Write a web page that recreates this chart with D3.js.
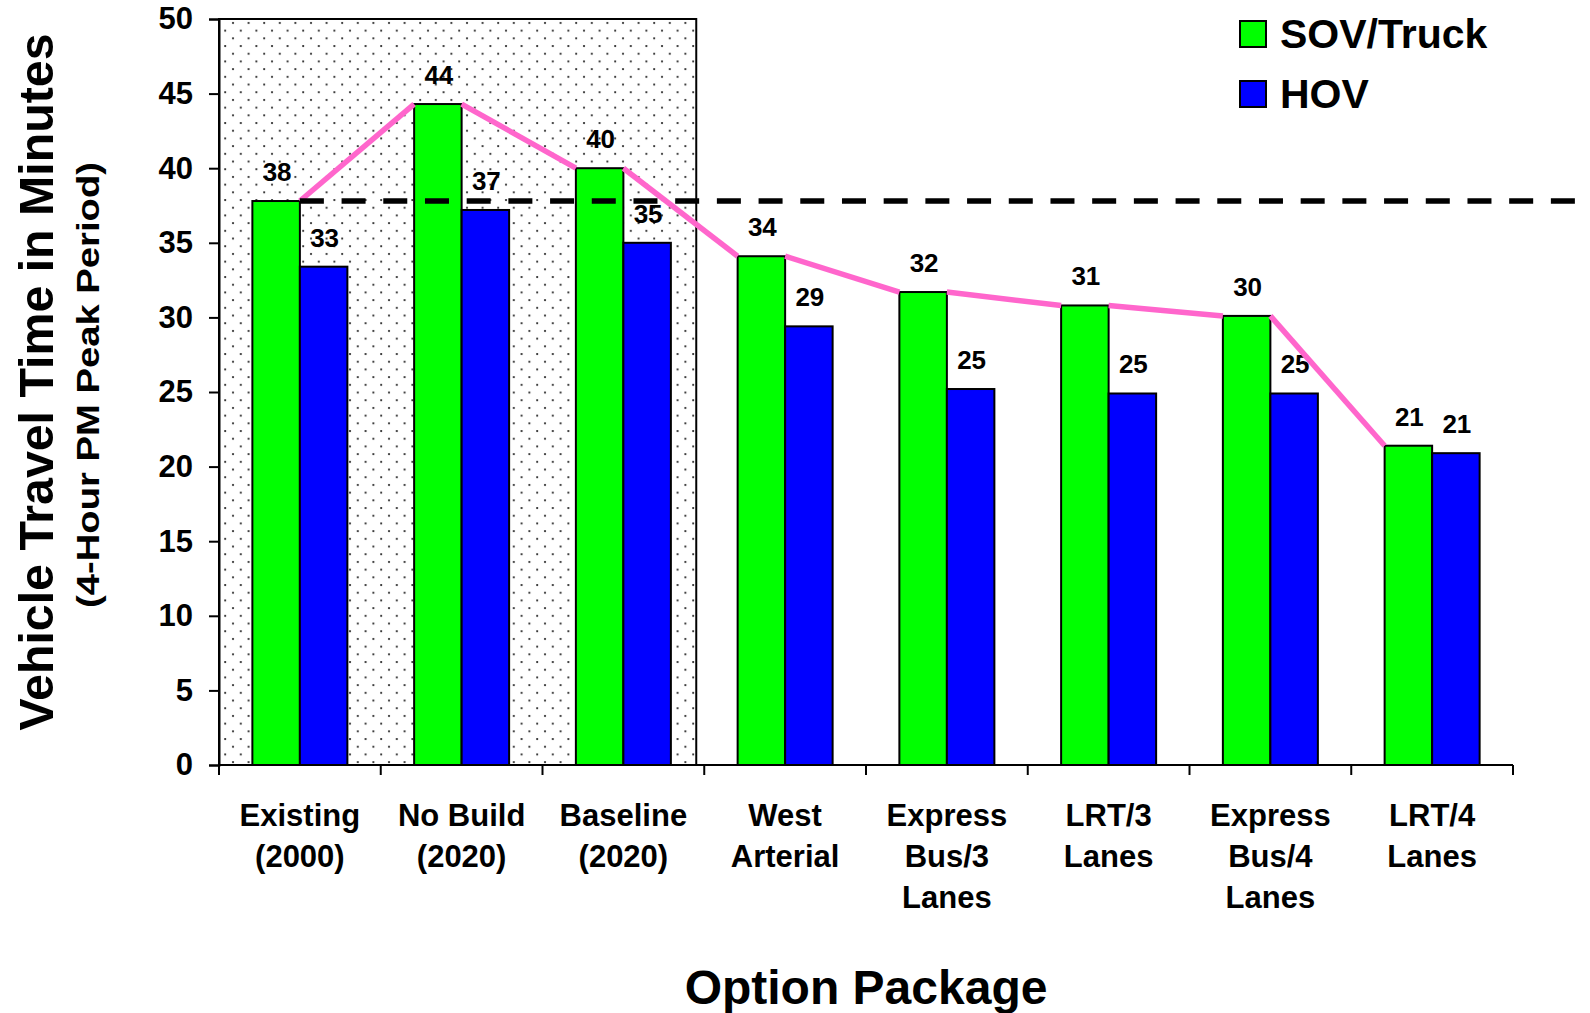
<!DOCTYPE html>
<html>
<head>
<meta charset="utf-8">
<script src="https://cdn.jsdelivr.net/npm/d3@7"></script>
<style>
  body { margin: 0; background: #fff; }
  svg text { font-family: "Liberation Sans", Arial, sans-serif; font-weight: bold; fill: #000; }
</style>
</head>
<body>
<div id="chart"></div>
<script>
// data
const categories = [
  ["Existing", "(2000)"],
  ["No Build", "(2020)"],
  ["Baseline", "(2020)"],
  ["West", "Arterial"],
  ["Express", "Bus/3", "Lanes"],
  ["LRT/3", "Lanes"],
  ["Express", "Bus/4", "Lanes"],
  ["LRT/4", "Lanes"]
];
const seriesNames = ["SOV/Truck", "HOV"];
const sovValues = [37.8, 44.3, 40.0, 34.1, 31.7, 30.8, 30.1, 21.4];
const hovValues = [33.4, 37.2, 35.0, 29.4, 25.2, 24.9, 24.9, 20.9];
const yTicks = [0, 5, 10, 15, 20, 25, 30, 35, 40, 45, 50];
const shadedCount = 3; // existing / no build / baseline
const seriesColors = ["#00ff00", "#0000ff"];

const width = 1590;
const height = 1013;
const margin = { left: 219, right: 77, top: 19, bottom: 248 };

const svg = d3.select("#chart")
  .append("svg")
  .attr("width", width)
  .attr("height", height);

const keys = categories.map((c, i) => i);

const x0 = d3.scaleBand()
  .domain(keys)
  .range([margin.left, width - margin.right])
  .padding(0);

const groupWidth = 95;
const x1 = d3.scaleBand()
  .domain(seriesNames)
  .range([0, groupWidth]);

const y = d3.scaleLinear()
  .domain([0, 50])
  .range([height - margin.bottom, margin.top]);

const step = x0.step();
const barX = (i, s) => x0(i) + (step - groupWidth) / 2 + x1(s);

// dotted background for the existing / 2020 packages
const defs = svg.append("defs");
const pat = defs.append("pattern")
  .attr("id", "dots")
  .attr("patternUnits", "userSpaceOnUse")
  .attr("x", 230)
  .attr("y", 20)
  .attr("width", 15.6)
  .attr("height", 15.4);
pat.append("rect").attr("width", 15.6).attr("height", 15.4).attr("fill", "#fff");
pat.append("circle").attr("cx", 3).attr("cy", 3).attr("r", 1.1).attr("fill", "#222");
pat.append("circle").attr("cx", 10.8).attr("cy", 10.7).attr("r", 1.1).attr("fill", "#222");

svg.append("rect")
  .attr("x", x0(0))
  .attr("y", y(50))
  .attr("width", x0(shadedCount - 1) + step - 8 - x0(0))
  .attr("height", y(0) - y(50))
  .attr("fill", "url(#dots)")
  .attr("stroke", "#000")
  .attr("stroke-width", 2);

// bars
const rows = keys.map(i => ({ i, vals: [sovValues[i], hovValues[i]] }));

const groups = svg.selectAll(".grp")
  .data(rows)
  .enter().append("g")
  .attr("class", "grp");

groups.selectAll("rect")
  .data(d => d.vals.map((v, k) => ({ i: d.i, s: seriesNames[k], k, v })))
  .enter().append("rect")
  .attr("x", d => barX(d.i, d.s))
  .attr("y", d => y(d.v))
  .attr("width", x1.bandwidth())
  .attr("height", d => y(0) - y(d.v))
  .attr("fill", d => seriesColors[d.k])
  .attr("stroke", "#000")
  .attr("stroke-width", 2);

// value labels
groups.selectAll("text")
  .data(d => d.vals.map((v, k) => ({ i: d.i, s: seriesNames[k], k, v })))
  .enter().append("text")
  .attr("x", d => barX(d.i, d.s) + x1.bandwidth() / 2 + 1)
  .attr("y", d => y(d.v) - 20)
  .attr("text-anchor", "middle")
  .style("font-size", "26px")
  .text(d => Math.round(d.v));

// pink trend line between SOV bar tops
const segs = d3.pairs(keys).map(([a, b]) => [
  [barX(a, "SOV/Truck") + x1.bandwidth(), y(sovValues[a])],
  [barX(b, "SOV/Truck"), y(sovValues[b])]
]);
svg.selectAll(".trend")
  .data(segs)
  .enter().append("line")
  .attr("class", "trend")
  .attr("x1", d => d[0][0])
  .attr("y1", d => d[0][1])
  .attr("x2", d => d[1][0])
  .attr("y2", d => d[1][1])
  .attr("stroke", "#ff66cc")
  .attr("stroke-width", 5.5);

// dashed reference at the existing SOV level
svg.append("line")
  .attr("x1", barX(0, "SOV/Truck") + x1.bandwidth())
  .attr("x2", width)
  .attr("y1", y(sovValues[0]))
  .attr("y2", y(sovValues[0]))
  .attr("stroke", "#000")
  .attr("stroke-width", 5.5)
  .attr("stroke-dasharray", "24,17.7");

// y axis
const yAxis = svg.append("g")
  .attr("transform", `translate(${margin.left},0)`)
  .call(d3.axisLeft(y).tickValues(yTicks).tickSize(10).tickPadding(16));
yAxis.select(".domain").attr("stroke-width", 2);
yAxis.selectAll(".tick line").attr("stroke-width", 2);
yAxis.selectAll("text").style("font-size", "31px").style("font-family", null);

// x axis: line plus ticks at category boundaries
const xBase = y(0);
svg.append("line")
  .attr("x1", margin.left).attr("x2", width - margin.right)
  .attr("y1", xBase).attr("y2", xBase)
  .attr("stroke", "#000").attr("stroke-width", 2);

svg.selectAll(".xtick")
  .data(keys.concat([keys.length]))
  .enter().append("line")
  .attr("class", "xtick")
  .attr("x1", d => margin.left + d * step)
  .attr("x2", d => margin.left + d * step)
  .attr("y1", xBase)
  .attr("y2", xBase + 10)
  .attr("stroke", "#000")
  .attr("stroke-width", 2);

const xl = svg.selectAll(".xlab")
  .data(categories)
  .enter().append("text")
  .attr("class", "xlab")
  .attr("text-anchor", "middle")
  .style("font-size", "31px");
xl.selectAll("tspan")
  .data((d, i) => d.map(line => ({ line, i })))
  .enter().append("tspan")
  .attr("x", d => x0(d.i) + step / 2)
  .attr("y", (d, j) => 826 + j * 41)
  .text(d => d.line);

// axis titles
svg.append("text")
  .attr("transform", "translate(866,1004)")
  .attr("text-anchor", "middle")
  .style("font-size", "48px")
  .text("Option Package");

svg.append("text")
  .attr("transform", "translate(53,382) rotate(-90)")
  .attr("text-anchor", "middle")
  .attr("textLength", 697)
  .attr("lengthAdjust", "spacingAndGlyphs")
  .style("font-size", "49px")
  .text("Vehicle Travel Time in Minutes");

svg.append("text")
  .attr("transform", "translate(99,385) rotate(-90)")
  .attr("text-anchor", "middle")
  .attr("textLength", 446)
  .attr("lengthAdjust", "spacingAndGlyphs")
  .style("font-size", "31px")
  .text("(4-Hour PM Peak Period)");

// legend
const legend = svg.append("g").attr("transform", "translate(1240,21)");
const li = legend.selectAll("g")
  .data(seriesNames)
  .enter().append("g")
  .attr("transform", (d, i) => `translate(0,${i * 60})`);
li.append("rect")
  .attr("width", 26).attr("height", 26)
  .attr("fill", (d, i) => seriesColors[i])
  .attr("stroke", "#000").attr("stroke-width", 2);
li.append("text")
  .attr("x", 40).attr("y", 27)
  .style("font-size", "41px")
  .text(d => d);
</script>
</body>
</html>
